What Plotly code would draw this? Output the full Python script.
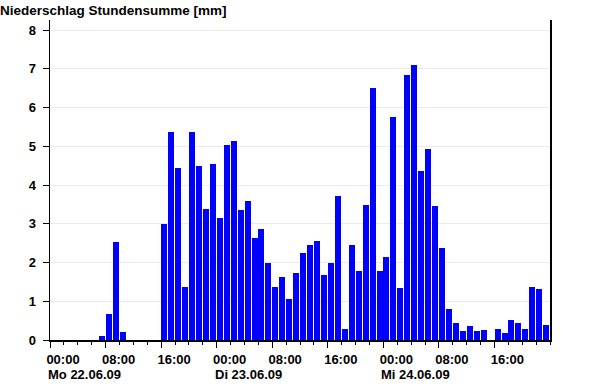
import plotly.graph_objects as go

# hourly precipitation sums [mm], hour slots starting Mo 22.06.09 00:00 (72 hours)
hours = list(range(72))
values = [
    0, 0, 0, 0, 0, 0, 0, 0.10, 0.67, 2.52, 0.20, 0, 0, 0, 0, 0,
    3.00, 5.37, 4.44, 1.37, 5.37, 4.49, 3.38, 4.54,
    3.15, 5.03, 5.14, 3.35, 3.59, 2.63, 2.86, 1.99,
    1.37, 1.63, 1.06, 1.73, 2.24, 2.45, 2.55, 1.68,
    1.99, 3.72, 0.28, 2.45, 1.78, 3.48, 6.50, 1.78,
    2.14, 5.75, 1.34, 6.84, 7.10, 4.36, 4.93, 3.46,
    2.37, 0.80, 0.44, 0.23, 0.36, 0.23, 0.26, 0,
    0.28, 0.18, 0.52, 0.44, 0.28, 1.37, 1.32, 0.39,
]
tick_hours = [0, 8, 16, 24, 32, 40, 48, 56, 64]
tick_labels = ["00:00", "08:00", "16:00", "00:00", "08:00", "16:00", "00:00", "08:00", "16:00"]
day_hours = [0, 24, 48]
day_labels = ["Mo 22.06.09", "Di 23.06.09", "Mi 24.06.09"]
y_ticks = [0, 1, 2, 3, 4, 5, 6, 7, 8]
title_text = "Niederschlag Stundensumme [mm]"

FONT = "Liberation Sans, Arial, sans-serif"

fig = go.Figure()
fig.add_trace(go.Bar(
    x=hours, y=values, offset=0.02, width=0.86,
    marker=dict(color="#0000ff", line=dict(width=0)),
    hoverinfo="skip",
))

for h, lab in zip(day_hours, day_labels):
    fig.add_annotation(
        x=h, xref="x", y=0, yref="paper", text="<b>%s</b>" % lab,
        showarrow=False, xanchor="left", yanchor="middle",
        xshift=-4, yshift=-34.5,
        font=dict(family=FONT, size=13, color="black"),
    )

fig.update_layout(
    width=600, height=385,
    margin=dict(l=50, r=50, t=20, b=45),
    plot_bgcolor="white", paper_bgcolor="white",
    showlegend=False, bargap=0,
    font=dict(family=FONT, size=13, color="black"),
    title=dict(
        text="<b>%s</b>" % title_text, xref="container", yref="container",
        x=0.0, xanchor="left", y=1 - 10 / 385, yanchor="middle",
        font=dict(family=FONT, size=13.5, color="black"), pad=dict(l=0, t=0, b=0, r=0),
    ),
    xaxis=dict(
        range=[0, 72], tickmode="array", tickvals=tick_hours,
        ticktext=["<b>%s</b>" % t for t in tick_labels],
        ticks="outside", ticklen=6, tickwidth=1, tickcolor="black",
        ticklabelshift=13, ticklabelstandoff=1,
        minor=dict(dtick=2, tick0=0, ticks="outside", ticklen=3, tickwidth=1, tickcolor="black", showgrid=False),
        showline=True, linecolor="black", linewidth=1.5,
        showgrid=False, zeroline=False, fixedrange=True,
        tickfont=dict(family=FONT, size=13, color="black"),
    ),
    yaxis=dict(
        range=[0, 320 / 38.75], tickmode="array", tickvals=y_ticks,
        ticktext=["<b>%d</b>" % v for v in y_ticks],
        ticks="outside", ticklen=6, tickwidth=1, tickcolor="black",
        ticklabelstandoff=4,
        showline=True, linecolor="black", linewidth=1.5, mirror=True,
        showgrid=True, gridcolor="#ebebeb", gridwidth=1,
        zeroline=False, fixedrange=True,
        tickfont=dict(family=FONT, size=13, color="black"),
    ),
)

fig.write_html(
    "out.html",
    config={"displayModeBar": False, "staticPlot": True},
    post_script="document.body.style.margin='0';document.body.style.overflow='hidden';",
)
